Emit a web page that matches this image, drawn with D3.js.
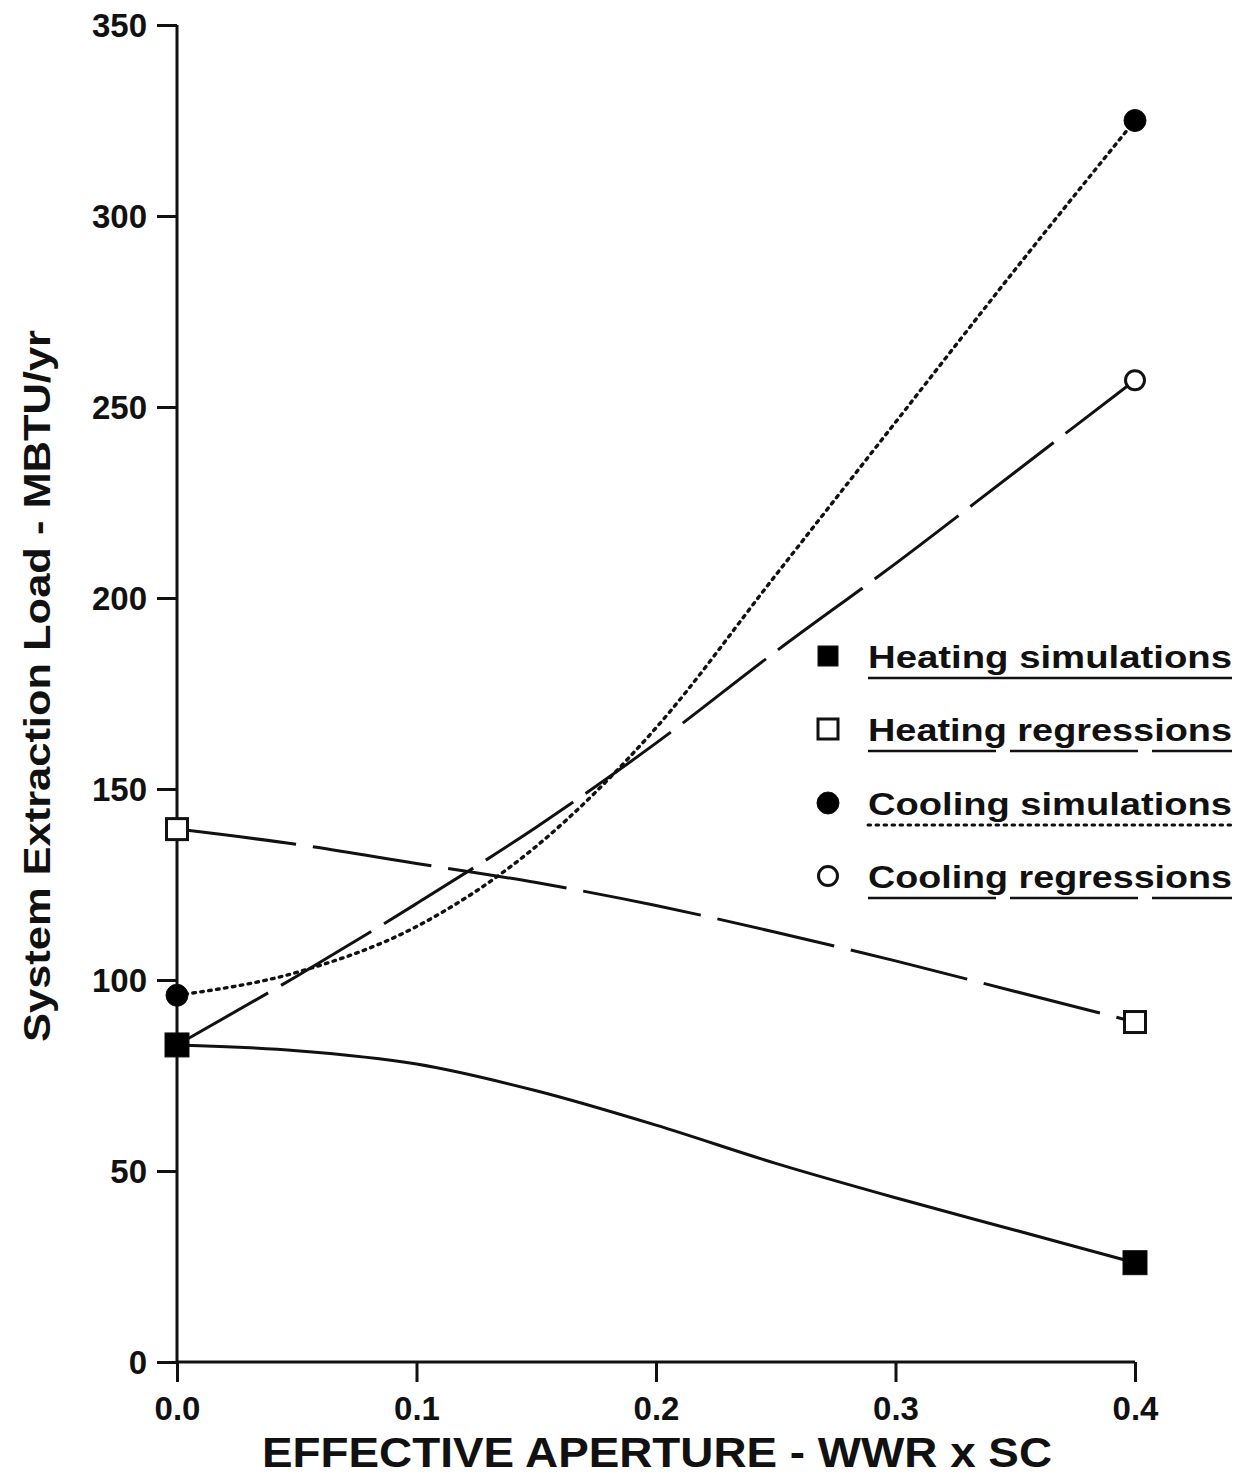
<!DOCTYPE html>
<html>
<head>
<meta charset="utf-8">
<script src="https://cdn.jsdelivr.net/npm/d3@7"></script>
<style>
  html, body { margin: 0; padding: 0; background: #fff; }
  svg { display: block; }
</style>
</head>
<body>
<svg id="chart" width="1241" height="1477"></svg>
<script>
// ---- data ----
const xValues = [0, 0.05, 0.1, 0.15, 0.2, 0.25, 0.3, 0.35, 0.4];
const heatingSimulations = [83, 81.5, 78, 71, 62, 52, 43, 34.5, 26];
const heatingRegressions = [139.5, 135.5, 130.5, 125.5, 119.5, 112.5, 105, 97, 89];
const coolingSimulations = [96, 102, 114, 135, 166, 206, 246, 286, 325];
const coolingRegressions = [83, 101, 120, 140, 162, 186, 209, 233, 257];
const markerIndices = [0, 8];
const xTickValues = [0, 0.1, 0.2, 0.3, 0.4];
const xTickLabels = ["0.0", "0.1", "0.2", "0.3", "0.4"];
const yTickValues = [0, 50, 100, 150, 200, 250, 300, 350];
const yTickLabels = ["0", "50", "100", "150", "200", "250", "300", "350"];
const seriesNames = ["Heating simulations", "Heating regressions", "Cooling simulations", "Cooling regressions"];
const xTitle = "EFFECTIVE APERTURE - WWR x SC";
const yTitle = "System Extraction Load - MBTU/yr";

// ---- styles ----
const styles = [
  { values: heatingSimulations, dash: null, marker: "square", fill: "#000", order: 3 },
  { values: heatingRegressions, dash: "120 17", marker: "square", fill: "#fff", order: 1 },
  { values: coolingSimulations, dash: "2.6 5.4", marker: "circle", fill: "#000", dotted: true, order: 2 },
  { values: coolingRegressions, dash: "105 15", marker: "circle", fill: "#fff", order: 0 }
];

const svg = d3.select("#chart");
const x = d3.scaleLinear().domain([0, 0.4]).range([177, 1135]);
const y = d3.scaleLinear().domain([0, 350]).range([1362, 25]);
const ink = "#111";
const tickFont = "'Liberation Sans', Arial, sans-serif";

// axes
const yAxis = d3.axisLeft(y).tickValues(yTickValues).tickFormat((d, i) => yTickLabels[i]).tickSize(20).tickPadding(10);
const gy = svg.append("g").attr("transform", `translate(${x(0)},0)`).call(yAxis);
gy.select(".domain").attr("stroke", ink).attr("stroke-width", 3).attr("d", `M0,${y(350)}V${y(0)}`);
gy.selectAll(".tick line").attr("stroke", ink).attr("stroke-width", 3);
gy.selectAll(".tick text").attr("font-family", tickFont).attr("font-weight", "bold")
  .attr("font-size", 33).attr("fill", ink).attr("dy", "0.36em");

const xAxis = d3.axisBottom(x).tickValues(xTickValues).tickFormat((d, i) => xTickLabels[i]).tickSize(20).tickPadding(8);
const gx = svg.append("g").attr("transform", `translate(0,${y(0)})`).call(xAxis);
gx.select(".domain").attr("stroke", ink).attr("stroke-width", 3).attr("d", `M${x(0)},0H${x(0.4)}`);
gx.selectAll(".tick line").attr("stroke", ink).attr("stroke-width", 3);
gx.selectAll(".tick text").attr("font-family", tickFont).attr("font-weight", "bold")
  .attr("font-size", 33).attr("fill", ink).attr("dy", "0.9em");

// titles
svg.append("text").attr("x", 657).attr("y", 1467).attr("text-anchor", "middle")
  .attr("font-family", tickFont).attr("font-weight", "bold").attr("font-size", 43).attr("fill", ink)
  .attr("textLength", 790).attr("lengthAdjust", "spacingAndGlyphs").text(xTitle);
svg.append("text").attr("transform", "translate(50,686) rotate(-90)").attr("text-anchor", "middle")
  .attr("font-family", tickFont).attr("font-weight", "bold").attr("font-size", 36).attr("fill", ink)
  .attr("textLength", 712).attr("lengthAdjust", "spacingAndGlyphs").text(yTitle);

// lines
const line = d3.line().x((d, i) => x(xValues[i])).y(d => y(d)).curve(d3.curveMonotoneX);
styles.forEach(s => {
  svg.append("path").attr("d", line(s.values)).attr("fill", "none").attr("stroke", ink)
    .attr("stroke-width", s.dotted ? 3.4 : 3)
    .attr("stroke-dasharray", s.dash)
    .attr("stroke-linecap", s.dotted ? "round" : "butt");
});

// markers
function drawMarker(g, type, fill, cx, cy, size) {
  if (type === "square") {
    const h = size / 2;
    g.append("rect").attr("x", cx - h).attr("y", cy - h).attr("width", size).attr("height", size)
      .attr("fill", fill).attr("stroke", ink).attr("stroke-width", fill === "#fff" ? 3 : 1);
  } else {
    g.append("circle").attr("cx", cx).attr("cy", cy).attr("r", fill === "#fff" ? 9.5 : 11)
      .attr("fill", fill).attr("stroke", ink).attr("stroke-width", fill === "#fff" ? 3 : 1);
  }
}
styles.slice().sort((a, b) => a.order - b.order).forEach(s => {
  markerIndices.forEach(i => drawMarker(svg, s.marker, s.fill, x(xValues[i]), y(s.values[i]),
    s.fill === "#000" ? 24 : 21));
});

// legend
const legendRowY = [656, 729, 803, 876];
seriesNames.forEach((name, i) => {
  const s = styles[i];
  const g = svg.append("g");
  drawMarker(g, s.marker, s.fill, 828, legendRowY[i], 20);
  g.append("text").attr("x", 868).attr("y", legendRowY[i] + 12)
    .attr("font-family", tickFont).attr("font-weight", "bold").attr("font-size", 32).attr("fill", ink)
    .attr("textLength", 364).attr("lengthAdjust", "spacingAndGlyphs").text(name);
  g.append("line").attr("x1", 868).attr("x2", 1232).attr("y1", legendRowY[i] + 22).attr("y2", legendRowY[i] + 22)
    .attr("stroke", ink).attr("stroke-width", s.dotted ? 3 : 2.5)
    .attr("stroke-dasharray", s.dash ? (s.dotted ? "2.6 5.4" : "128 14") : null)
    .attr("stroke-linecap", s.dotted ? "round" : "butt");
});
</script>
</body>
</html>
